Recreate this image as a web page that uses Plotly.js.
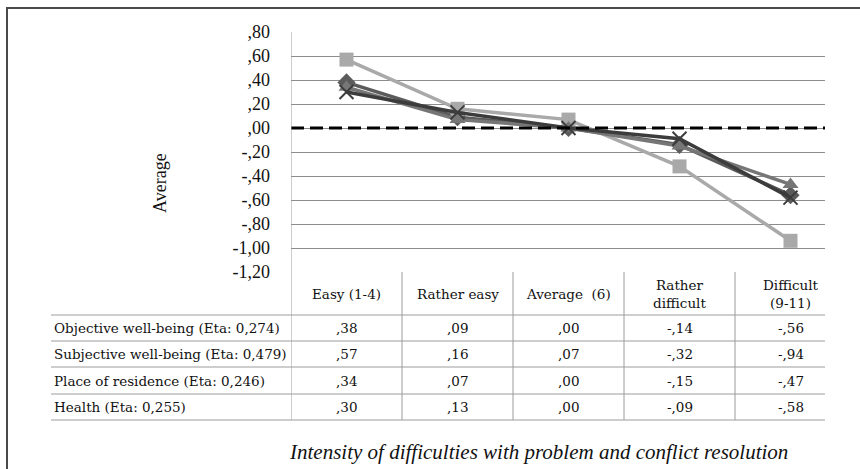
<!DOCTYPE html>
<html>
<head>
<meta charset="utf-8">
<script src="https://cdn.plot.ly/plotly-3.0.1.min.js"></script>
<style>html,body{margin:0;padding:0;background:#fff;}#chart{width:860px;height:469px;}</style>
</head>
<body>
<div id="chart"></div>
<script>
// ---- data ----
const categories = ['Easy (1-4)', 'Rather easy', 'Average (6)', 'Rather difficult', 'Difficult (9-11)'];
const headerLabels = ['Easy (1-4)', 'Rather easy', 'Average  (6)', 'Rather<br>difficult', 'Difficult<br>(9-11)'];
const seriesNames = ['Objective well-being (Eta: 0,274)', 'Subjective well-being (Eta: 0,479)', 'Place of residence (Eta: 0,246)', 'Health (Eta: 0,255)'];
const objective = [0.38, 0.09, 0.00, -0.14, -0.56];
const subjective = [0.57, 0.16, 0.07, -0.32, -0.94];
const residence = [0.34, 0.07, 0.00, -0.15, -0.47];
const health = [0.30, 0.13, 0.00, -0.09, -0.58];
const yTickVals = [0.8, 0.6, 0.4, 0.2, 0.0, -0.2, -0.4, -0.6, -0.8, -1.0, -1.2];
const yTickText = [',80', ',60', ',40', ',20', ',00', '-,20', '-,40', '-,60', '-,80', '-1,00', '-1,20'];
const yTitle = 'Average';
const xTitle = 'Intensity of difficulties with problem and conflict resolution';

// ---- helpers ----
function fmt(v) {
  const neg = v < 0;
  const a = Math.abs(v);
  const ip = Math.floor(a + 1e-9);
  const dec = Math.round((a - ip) * 100);
  return (neg ? '-' : '') + (ip > 0 ? String(ip) : '') + ',' + String(dec).padStart(2, '0');
}

// plot area in pixels: x 291..825, y 32..272
const L = 291, R = 825, T = 32, B = 272;
const W = R - L, H = B - T;
const px2paperX = p => (p - L) / W;
const px2paperY = p => (B - p) / H;

const allSeries = [objective, subjective, residence, health];
const styles = [
  {color: '#5b5b5b', symbol: 'diamond', size: 14, lw: 0},
  {color: '#a9a9a9', symbol: 'square', size: 14, lw: 0},
  {color: '#767676', symbol: 'triangle-up', size: 14, lw: 0},
  {color: '#3c3c3c', symbol: 'x-thin', size: 14, lw: 2}
];

const traces = allSeries.map((s, i) => ({
  type: 'scatter', mode: 'lines+markers',
  name: seriesNames[i], x: categories, y: s,
  line: {color: styles[i].color, width: 3.5},
  marker: {symbol: styles[i].symbol, size: styles[i].size, color: styles[i].color,
           line: {color: styles[i].color, width: styles[i].lw}},
  cliponaxis: false, hoverinfo: 'skip'
}));

const tableColor = '#9c9c9c';
const rowLines = [315, 341, 367, 394, 420];
const rowCenters = [328, 354, 380.5, 407];
const shapes = [];
// outer frame
shapes.push({type: 'rect', xref: 'paper', yref: 'paper',
  x0: px2paperX(7), x1: px2paperX(875), y0: px2paperY(8), y1: px2paperY(490),
  line: {color: '#4a4a4a', width: 2}, fillcolor: 'rgba(0,0,0,0)', layer: 'below'});
// zero dashed line
shapes.push({type: 'line', xref: 'paper', yref: 'y', x0: 0, x1: 1, y0: 0, y1: 0,
  line: {color: '#000', width: 3, dash: '13px,6px'}});
// left vertical axis line through plot + table
shapes.push({type: 'line', xref: 'x', yref: 'paper', x0: -0.5, x1: -0.5,
  y0: 1, y1: px2paperY(420), line: {color: tableColor, width: 1}});
// vertical separators in table
for (let i = 0; i < categories.length - 1; i++) {
  shapes.push({type: 'line', xref: 'x', yref: 'paper', x0: i + 0.5, x1: i + 0.5,
    y0: 0, y1: px2paperY(420), line: {color: tableColor, width: 1}});
}
// horizontal table rows
rowLines.forEach(p => shapes.push({type: 'line', xref: 'paper', yref: 'paper',
  x0: px2paperX(51), x1: 1, y0: px2paperY(p), y1: px2paperY(p),
  line: {color: tableColor, width: 1}}));

const tableFont = {family: "'DejaVu Serif', serif", size: 13.5, color: '#111'};
const annotations = [];
headerLabels.forEach((h, i) => annotations.push({xref: 'x', yref: 'paper', x: i,
  y: px2paperY(293.5), text: h, showarrow: false, font: tableFont, xanchor: 'center', yanchor: 'middle'}));
seriesNames.forEach((n, r) => {
  annotations.push({xref: 'paper', yref: 'paper', x: px2paperX(52), y: px2paperY(rowCenters[r]),
    text: n, showarrow: false, font: tableFont, xanchor: 'left', yanchor: 'middle'});
  allSeries[r].forEach((v, i) => annotations.push({xref: 'x', yref: 'paper', x: i,
    y: px2paperY(rowCenters[r]), text: fmt(v), showarrow: false, font: tableFont,
    xanchor: 'center', yanchor: 'middle'}));
});
annotations.push({xref: 'paper', yref: 'paper', x: px2paperX(160), y: px2paperY(183),
  text: yTitle, textangle: -90, showarrow: false,
  font: {family: 'Liberation Serif', size: 18, color: '#111'}, xanchor: 'center', yanchor: 'middle'});
annotations.push({xref: 'paper', yref: 'paper', x: px2paperX(538), y: px2paperY(452),
  text: '<i>' + xTitle + '</i>', showarrow: false,
  font: {family: 'Liberation Serif', size: 21, color: '#111'}, xanchor: 'center', yanchor: 'middle'});

const layout = {
  width: 860, height: 469,
  margin: {l: L, r: 860 - R, t: T, b: 469 - B, pad: 0},
  paper_bgcolor: '#fff', plot_bgcolor: '#fff',
  showlegend: false,
  xaxis: {type: 'category', range: [-0.5, -0.5 + W / 111], showticklabels: false,
          showgrid: false, zeroline: false, showline: false, fixedrange: true},
  yaxis: {range: [-1.2, 0.8], tickvals: yTickVals, ticktext: yTickText,
          showgrid: true, gridcolor: '#8c8c8c', gridwidth: 1, zeroline: false,
          showline: false, ticks: '', ticklabelstandoff: 20,
          tickfont: {family: 'Liberation Serif', size: 18, color: '#111'}, fixedrange: true},
  shapes: shapes,
  annotations: annotations
};

Plotly.newPlot('chart', traces, layout, {displayModeBar: false, staticPlot: true});
</script>
</body>
</html>
